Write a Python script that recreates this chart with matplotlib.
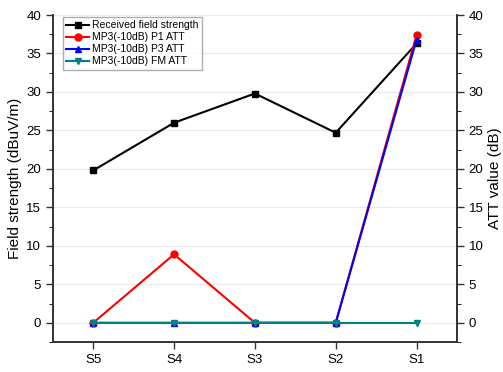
import matplotlib.pyplot as plt

plt.rcParams['font.family'] = ['Liberation Sans', 'DejaVu Sans']

# Sites and measured values
sites = ['S5', 'S4', 'S3', 'S2', 'S1']
received = [19.8, 26.0, 29.8, 24.7, 36.3]
p1_att = [0, 8.9, 0, 0, 37.4]
p3_att = [0, 0, 0, 0, 36.8]
fm_att = [0, 0, 0, 0, 0]

fig = plt.figure(figsize=(5.03, 3.72), dpi=100)
ax = fig.add_axes([0.105, 0.0806, 0.8035, 0.879])
ax2 = ax.twinx()

x = range(len(sites))
ax.plot(x, received, color='black', marker='s', ms=5, lw=1.5, label='Received field strength')
ax.plot(x, p1_att, color='red', marker='o', ms=5, lw=1.5, label='MP3(-10dB) P1 ATT')
ax.plot(x, p3_att, color='blue', marker='^', ms=5, lw=1.5, label='MP3(-10dB) P3 ATT')
ax.plot(x, fm_att, color='#008080', marker='v', ms=5, lw=1.5, label='MP3(-10dB) FM ATT')

for a in (ax, ax2):
    a.set_ylim(-2.5, 40)
    a.set_yticks(range(0, 41, 5))
    a.set_yticks([v + 2.5 for v in range(-5, 40, 5)], minor=True)
    a.spines['top'].set_visible(False)
    a.tick_params(labelsize=9.5, width=1, length=5, colors='#333333', labelcolor='black')
    a.tick_params(which='minor', length=3)
    for s in ('left', 'right', 'bottom'):
        a.spines[s].set_linewidth(1.2)
        a.spines[s].set_color('#333333')

ax.set_xlim(-0.5, 4.5)
ax.set_xticks(list(x))
ax.set_xticklabels(sites)
ax.grid(axis='y', color='#e8e8e8', lw=0.8)
ax.set_axisbelow(True)

ax.set_ylabel('Field strength (dBuV/m)', fontsize=11, labelpad=3)
ax2.set_ylabel('ATT value (dB)', fontsize=11, rotation=90, labelpad=3)

ax.legend(loc='upper left', bbox_to_anchor=(0.02, 1.0), fontsize=7.5, frameon=True,
          fancybox=False, edgecolor='#999999', borderpad=0.3, labelspacing=0.2,
          handlelength=2.2, handletextpad=0.3, borderaxespad=0.2)

fig.savefig('out.png', dpi=100)
